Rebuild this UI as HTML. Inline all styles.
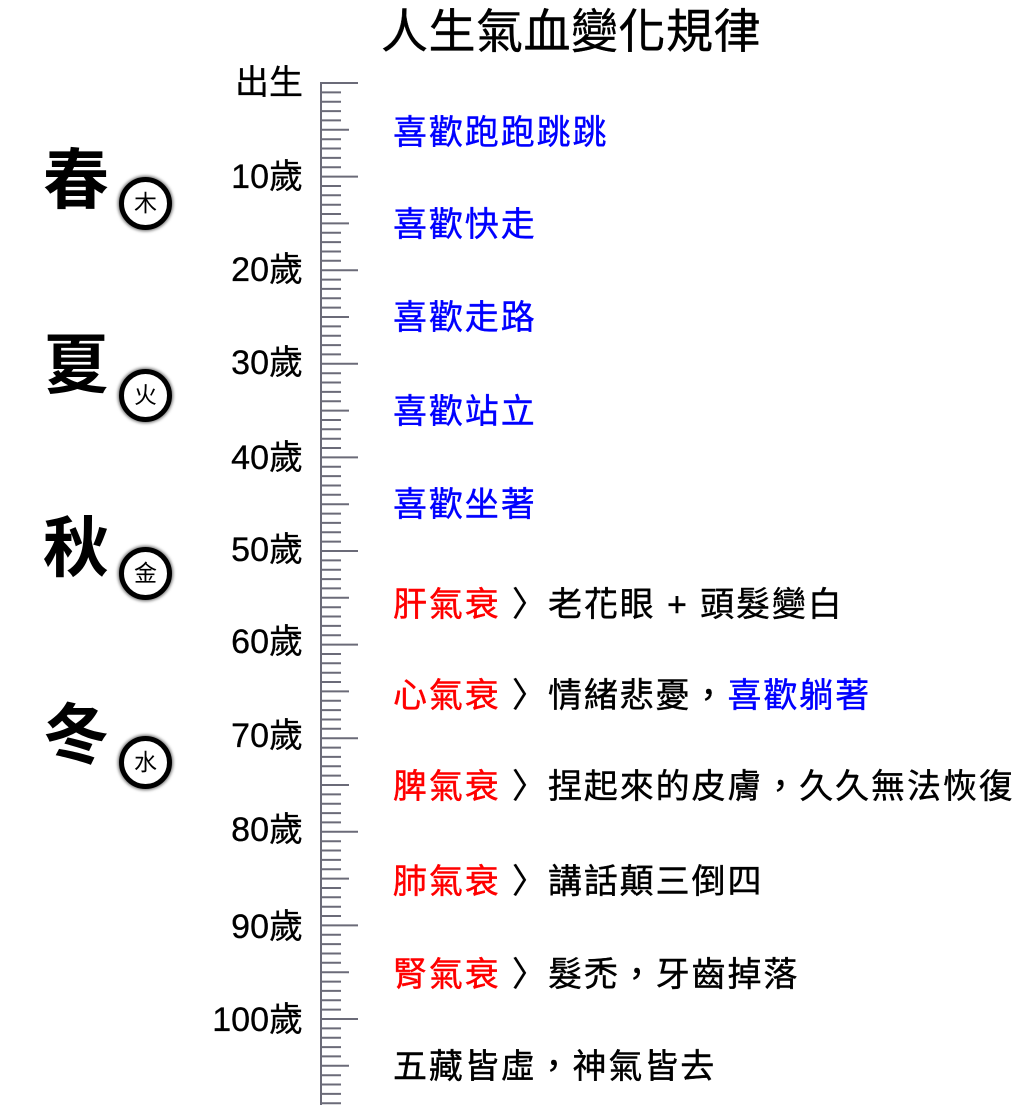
<!DOCTYPE html>
<html><head><meta charset="utf-8">
<style>
body{margin:0;width:1025px;height:1105px;background:#fff;position:relative;overflow:hidden;font-family:"Liberation Sans","Noto Sans CJK TC",sans-serif;}
.t{position:absolute;white-space:nowrap;font-size:34px;line-height:34px;letter-spacing:1.9px;-webkit-text-stroke:0.4px currentColor;}
.l{position:absolute;right:722px;white-space:nowrap;font-size:34px;line-height:34px;color:#000;-webkit-text-stroke:0.3px #000;}
.s{position:absolute;left:43px;font-size:66px;line-height:66px;font-weight:bold;}
.c{position:absolute;width:43px;height:43px;border-radius:50%;border:5px solid #000;box-shadow:0 0 3px 1px rgba(0,0,0,.6);font-size:23px;line-height:43px;text-align:center;background:#fff;}
.b{color:#0000ff}.r{color:#ff0000}
</style></head><body>
<div class="t" style="left:381px;top:8px;font-size:47px;line-height:48px;letter-spacing:0.5px;">人生氣血變化規律</div>
<svg style="position:absolute;left:0;top:0" width="1025" height="1105">
<g stroke="#6b6b78" stroke-width="2" id="ru"></g>
</svg>
<script>
var g=document.getElementById('ru'),h='<line x1="321" y1="82" x2="321" y2="1105"/>';
for(var i=0;i<=109;i++){var y=83+i*9.36;var len=i%10==0?37:(i%5==0?28:20);h+='<line x1="321" y1="'+y.toFixed(1)+'" x2="'+(321+len)+'" y2="'+y.toFixed(1)+'"/>';}
g.innerHTML=h;
</script>
<div class="l" style="top:66px">出生</div>
<div class="l" style="top:160px">10歲</div>
<div class="l" style="top:253px">20歲</div>
<div class="l" style="top:346px">30歲</div>
<div class="l" style="top:441px">40歲</div>
<div class="l" style="top:533px">50歲</div>
<div class="l" style="top:625px">60歲</div>
<div class="l" style="top:719px">70歲</div>
<div class="l" style="top:813px">80歲</div>
<div class="l" style="top:910px">90歲</div>
<div class="l" style="top:1003px">100歲</div>

<div class="s" style="top:147px">春</div>
<div class="s" style="top:332px">夏</div>
<div class="s" style="top:515px">秋</div>
<div class="s" style="top:702px">冬</div>
<div class="c" style="left:119px;top:177px">木</div>
<div class="c" style="left:119px;top:369px">火</div>
<div class="c" style="left:119px;top:547px">金</div>
<div class="c" style="left:119px;top:736px">水</div>

<div class="t b" style="left:393px;top:116px">喜歡跑跑跳跳</div>
<div class="t b" style="left:393px;top:208px">喜歡快走</div>
<div class="t b" style="left:393px;top:301px">喜歡走路</div>
<div class="t b" style="left:393px;top:395px">喜歡站立</div>
<div class="t b" style="left:393px;top:488px">喜歡坐著</div>
<div class="t" style="left:393px;top:588px"><span class="r">肝氣衰</span> 〉老花眼 + 頭髮變白</div>
<div class="t" style="left:393px;top:679px"><span class="r">心氣衰</span> 〉情緒悲憂，<span class="b">喜歡躺著</span></div>
<div class="t" style="left:393px;top:770px"><span class="r">脾氣衰</span> 〉捏起來的皮膚，久久無法恢復</div>
<div class="t" style="left:393px;top:865px"><span class="r">肺氣衰</span> 〉講話顛三倒四</div>
<div class="t" style="left:393px;top:958px"><span class="r">腎氣衰</span> 〉髮禿，牙齒掉落</div>
<div class="t" style="left:393px;top:1050px">五藏皆虛，神氣皆去</div>
</body></html>
